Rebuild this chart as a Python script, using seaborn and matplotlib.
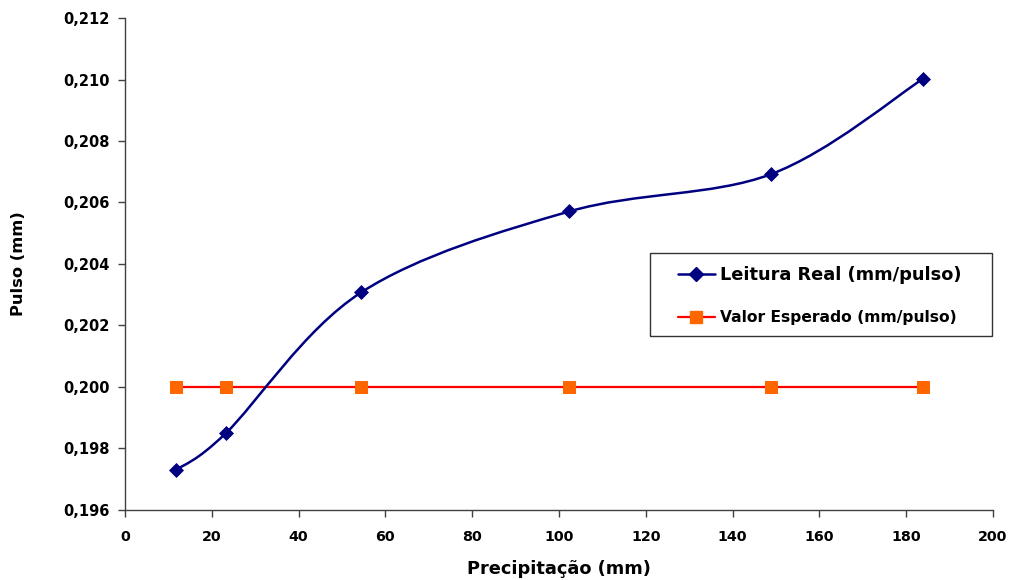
import numpy as np
import pandas as pd
import matplotlib
matplotlib.use("Agg")
import matplotlib.pyplot as plt
from matplotlib.path import Path
from matplotlib.patches import PathPatch, Rectangle
from matplotlib.lines import Line2D
from matplotlib.ticker import FuncFormatter, MultipleLocator
import seaborn as sns

# Data
precipitacao = [11.8, 23.2, 54.4, 102.4, 148.8, 183.8]
leitura_real = [0.19729, 0.19848, 0.20307, 0.20571, 0.20692, 0.21002]
valor_esperado = [0.200, 0.200, 0.200, 0.200, 0.200, 0.200]
label_real = "Leitura Real (mm/pulso)"
label_esp = "Valor Esperado (mm/pulso)"
xlabel = "Precipitação (mm)"
ylabel = "Pulso (mm)"

sns.set_theme(style="white")
plt.rcParams['font.family'] = ['DejaVu Sans']
plt.rcParams['text.color'] = 'black'
plt.rcParams['axes.labelcolor'] = 'black'
plt.rcParams['xtick.color'] = 'black'
plt.rcParams['ytick.color'] = 'black'

df = pd.DataFrame({"x": precipitacao, "real": leitura_real, "esp": valor_esperado})

fig = plt.figure(figsize=(10.13, 5.80), dpi=100)
ax = fig.add_axes([125/1013, 1 - 509.5/580, 868/1013, 491.2/580])

navy = "#000080"
red = "#FF0000"
orange = "#FF6600"

# Expected line
sns.lineplot(data=df, x="x", y="esp", ax=ax, color=red, linewidth=1.6,
             marker="s", markersize=8.5, markerfacecolor=orange,
             markeredgecolor=orange, legend=False, zorder=2)

# Smoothed real curve (Catmull-Rom style Bezier through data points)
pts = np.column_stack([precipitacao, leitura_real])
n = len(pts)
verts = [tuple(pts[0])]
codes = [Path.MOVETO]
for i in range(n - 1):
    p0 = pts[i - 1] if i > 0 else pts[i]
    p1 = pts[i]
    p2 = pts[i + 1]
    p3 = pts[i + 2] if i + 2 < n else pts[i + 1]
    c1 = p1 + (p2 - p0) / 6.0
    c2 = p2 - (p3 - p1) / 6.0
    verts += [tuple(c1), tuple(c2), tuple(p2)]
    codes += [Path.CURVE4] * 3
ax.add_patch(PathPatch(Path(verts, codes), facecolor="none", edgecolor=navy,
                       linewidth=1.8, zorder=3))
sns.scatterplot(data=df, x="x", y="real", ax=ax, marker="D", s=50,
                color=navy, edgecolor=navy, legend=False, zorder=4)

ax.set_xlim(0, 200)
ax.set_ylim(0.196, 0.212)
ax.xaxis.set_major_locator(MultipleLocator(20))
ax.yaxis.set_major_locator(MultipleLocator(0.002))
ax.yaxis.set_major_formatter(FuncFormatter(lambda v, p: f"{v:.3f}".replace(".", ",")))

for s in ["top", "right"]:
    ax.spines[s].set_visible(False)
for s in ["left", "bottom"]:
    ax.spines[s].set_color("#404040")
    ax.spines[s].set_linewidth(1.0)
ax.tick_params(axis="both", which="major", direction="out", length=5, width=1,
               color="#404040", labelcolor="black", pad=6)
ax.tick_params(axis="y", labelsize=10.5)
ax.tick_params(axis="x", labelsize=10.3, pad=10)
ax.tick_params(left=True, bottom=True)
for lab in ax.get_xticklabels() + ax.get_yticklabels():
    lab.set_fontweight("bold")

ax.set_xlabel(xlabel, fontsize=12.8, fontweight="bold", labelpad=11)
ax.set_ylabel(ylabel, fontsize=11.7, fontweight="bold", labelpad=27)

# Legend frame (Excel style box)
ax.add_patch(Rectangle((0.6048, 0.3538), 0.394, 0.169, transform=ax.transAxes,
                       facecolor="white", edgecolor="#333333", linewidth=1.0,
                       zorder=5, clip_on=False))

handles = [
    Line2D([], [], color=navy, linewidth=1.8, marker="D", markersize=7,
           markerfacecolor=navy, markeredgecolor=navy),
    Line2D([], [], color=red, linewidth=1.6, marker="s", markersize=8.5,
           markerfacecolor=orange, markeredgecolor=orange),
]
leg = ax.legend(handles, [label_real, label_esp], loc="center left",
                bbox_to_anchor=(0.637, 0.4357), frameon=False,
                handlelength=2.42, handletextpad=0.33, borderpad=0,
                labelspacing=1.75, borderaxespad=0,
                prop={"weight": "bold", "size": 11})
leg.set_zorder(6)
texts = leg.get_texts()
texts[0].set_fontsize(12.8)
texts[1].set_fontsize(11.2)
for t in texts:
    t.set_color("black")

fig.savefig("out.png", dpi=100, facecolor="white")
